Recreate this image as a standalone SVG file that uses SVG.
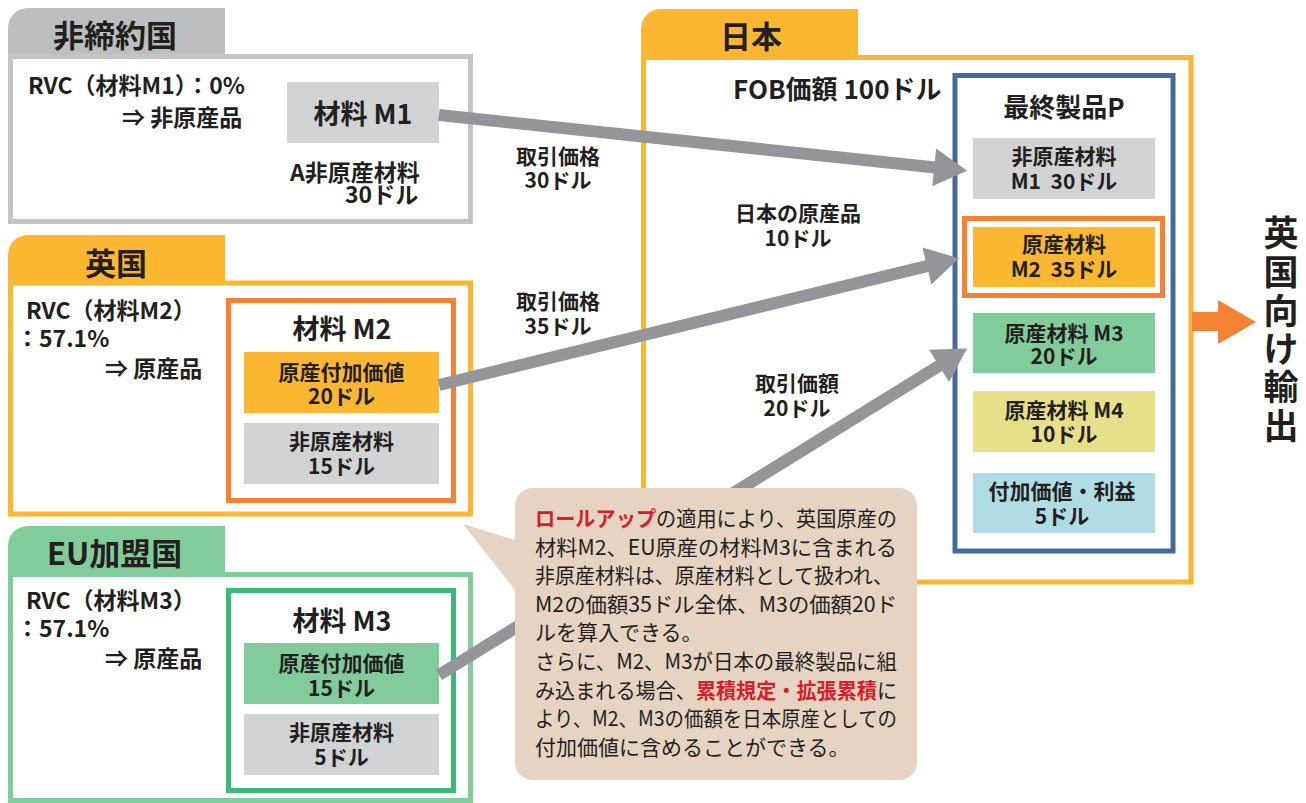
<svg xmlns="http://www.w3.org/2000/svg" width="1306" height="803" viewBox="0 0 1306 803">
<defs>
<style>
text{font-family:"Noto Sans CJK JP","Noto Sans",sans-serif;fill:#231f20;font-weight:700;}
.tab{font-size:31px;}
.b{font-size:21px;}
.l{font-size:23px;}
.m{font-size:27px;}
.c{text-anchor:middle;}
.note{font-size:21px;font-weight:400;}
.red{fill:#d51f2b;font-weight:700;}
.frame{fill:#fff;stroke-width:5;}
.conn{stroke:#939598;stroke-width:12;fill:none;marker-end:url(#ah);}
</style>
<marker id="ah" markerUnits="userSpaceOnUse" markerWidth="36" markerHeight="40" viewBox="-1 -20 36 40" refX="1" refY="0" orient="auto">
<path d="M0,-19 L33,0 L0,19 Z" fill="#939598"/>
</marker>
</defs>
<rect width="1306" height="803" fill="#fff"/>

<g id="non-signatory">
<path d="M8,58 V28 A20,20 0 0 1 28,8 H225 V58 Z" fill="#bcbec0"/>
<rect class="frame" x="10.5" y="56.5" width="460" height="165" stroke="#c3c4c6"/>
<text class="tab" x="53" y="47">非締約国</text>
<text class="l" x="28" y="94">RVC（材料M1）：0%</text>
<text class="l" x="122" y="126">⇒ 非原産品</text>
<g id="m1">
<rect x="287" y="82" width="152" height="61" fill="#d1d3d4"/>
<text class="m c" x="363" y="124">材料 M1</text>
</g>
<text class="l" x="290" y="181">A非原産材料</text>
<text class="l" x="345" y="203">30ドル</text>
</g>

<g id="uk">
<path d="M8,285 V255 A20,20 0 0 1 28,235 H225 V285 Z" fill="#fbb731"/>
<rect class="frame" x="10.5" y="283" width="460" height="231" stroke="#fbb731"/>
<text class="tab" x="85" y="275">英国</text>
<text class="l" x="26" y="319">RVC（材料M2）</text>
<text class="l" x="16" y="347">：57.1%</text>
<text class="l" x="105" y="377">⇒ 原産品</text>
<g id="m2">
<rect x="228.5" y="300.5" width="225" height="200" fill="#fff" stroke="#f58233" stroke-width="5"/>
<text class="m c" x="342" y="339">材料 M2</text>
<rect x="244" y="352" width="195" height="61" fill="#fbb731"/>
<text class="b c" x="341.5" y="380">原産付加価値</text>
<text class="b c" x="341.5" y="404">20ドル</text>
<rect x="244" y="423" width="195" height="61" fill="#d1d3d4"/>
<text class="b c" x="341.5" y="449">非原産材料</text>
<text class="b c" x="341.5" y="474">15ドル</text>
</g>
</g>

<g id="eu">
<path d="M8,577 V546 A20,20 0 0 1 28,526 H225 V577 Z" fill="#82cb9b"/>
<rect class="frame" x="10.5" y="574.5" width="460" height="226" stroke="#82cb9b"/>
<text class="tab" x="47" y="565">EU加盟国</text>
<text class="l" x="26" y="609">RVC（材料M3）</text>
<text class="l" x="16" y="637">：57.1%</text>
<text class="l" x="105" y="667">⇒ 原産品</text>
<g id="m3">
<rect x="228.5" y="590.5" width="225" height="200" fill="#fff" stroke="#3cb878" stroke-width="5"/>
<text class="m c" x="342" y="631">材料 M3</text>
<rect x="244" y="643" width="195" height="61" fill="#82cb9b"/>
<text class="b c" x="341.5" y="671">原産付加価値</text>
<text class="b c" x="341.5" y="696">15ドル</text>
<rect x="244" y="714" width="195" height="61" fill="#d1d3d4"/>
<text class="b c" x="341.5" y="740">非原産材料</text>
<text class="b c" x="341.5" y="765">5ドル</text>
</g>
</g>

<g id="japan">
<path d="M641,60 V29 A20,20 0 0 1 661,9 H858 V60 Z" fill="#fbb731"/>
<rect class="frame" x="643.5" y="57.5" width="547.5" height="524.5" stroke="#fbb731"/>
<text class="tab" x="720" y="48">日本</text>
<text x="733" y="99" style="font-size:26px">FOB価額 100ドル</text>
<text class="b c" x="798" y="221">日本の原産品</text>
<text class="b c" x="798" y="246">10ドル</text>
<g id="product-p">
<rect x="955" y="75.5" width="218" height="475.5" fill="#fff" stroke="#486a9c" stroke-width="5"/>
<text class="c" x="1064" y="117" style="font-size:26px">最終製品P</text>
<rect x="973" y="138" width="182" height="61" fill="#d1d3d4"/>
<text class="b c" x="1064" y="164">非原産材料</text>
<text class="b c" x="1064" y="189" xml:space="preserve">M1  30ドル</text>
<rect x="964.5" y="218.5" width="198" height="77" fill="#fff" stroke="#f58233" stroke-width="5"/>
<rect x="973" y="227" width="182" height="60" fill="#fbb731"/>
<text class="b c" x="1064" y="252">原産材料</text>
<text class="b c" x="1064" y="277" xml:space="preserve">M2  35ドル</text>
<rect x="973" y="313" width="182" height="60" fill="#82cb9b"/>
<text class="b c" x="1064" y="341">原産材料 M3</text>
<text class="b c" x="1064" y="364">20ドル</text>
<rect x="973" y="391" width="182" height="61" fill="#e8df8b"/>
<text class="b c" x="1064" y="418">原産材料 M4</text>
<text class="b c" x="1064" y="442">10ドル</text>
<rect x="973" y="473" width="182" height="60" fill="#b0dde3"/>
<text class="b c" x="1062" y="499">付加価値・利益</text>
<text class="b c" x="1062" y="524">5ドル</text>
</g>
</g>

<g id="connectors">
<line class="conn" x1="439" y1="115" x2="935.2" y2="167.5"/>
<line class="conn" x1="439" y1="385" x2="927.9" y2="265.8"/>
<line class="conn" x1="439" y1="675" x2="939.9" y2="365.4"/>
<polygon points="1192,312 1218,312 1218,300 1256,322 1218,344 1218,331 1192,331" fill="#f58233"/>
</g>

<g id="labels">
<text class="b c" x="558" y="164">取引価格</text>
<text class="b c" x="558" y="188">30ドル</text>
<text class="b c" x="558" y="309">取引価格</text>
<text class="b c" x="558" y="334">35ドル</text>
<text class="b c" x="797" y="391">取引価額</text>
<text class="b c" x="797" y="416">20ドル</text>
</g>

<g id="export">
<text class="c" x="1281" style="font-size:35px"><tspan x="1281" y="246">英</tspan><tspan x="1281" y="285">国</tspan><tspan x="1281" y="324">向</tspan><tspan x="1281" y="362">け</tspan><tspan x="1281" y="400">輸</tspan><tspan x="1281" y="439">出</tspan></text>
</g>

<g id="callout">
<path d="M533,488 H899 A18,18 0 0 1 917,506 V762 A18,18 0 0 1 899,780 H533 A18,18 0 0 1 515,762 V590 L463,524 L515,540 V506 A18,18 0 0 1 533,488 Z" fill="#e6d3c2"/>
<text class="note" x="535" y="526" textLength="362" lengthAdjust="spacingAndGlyphs"><tspan class="red">ロールアップ</tspan>の適用により、英国原産の</text>
<text class="note" x="535" y="555" textLength="362" lengthAdjust="spacingAndGlyphs">材料M2、EU原産の材料M3に含まれる</text>
<text class="note" x="535" y="583" textLength="358" lengthAdjust="spacingAndGlyphs">非原産材料は、原産材料として扱われ、</text>
<text class="note" x="535" y="612" textLength="362" lengthAdjust="spacingAndGlyphs">M2の価額35ドル全体、M3の価額20ド</text>
<text class="note" x="535" y="640">ルを算入できる。</text>
<text class="note" x="535" y="669" textLength="362" lengthAdjust="spacingAndGlyphs">さらに、M2、M3が日本の最終製品に組</text>
<text class="note" x="535" y="698" textLength="362" lengthAdjust="spacingAndGlyphs">み込まれる場合、<tspan class="red">累積規定・拡張累積</tspan>に</text>
<text class="note" x="535" y="726" textLength="362" lengthAdjust="spacingAndGlyphs">より、M2、M3の価額を日本原産としての</text>
<text class="note" x="535" y="755">付加価値に含めることができる。</text>
</g>
</svg>
